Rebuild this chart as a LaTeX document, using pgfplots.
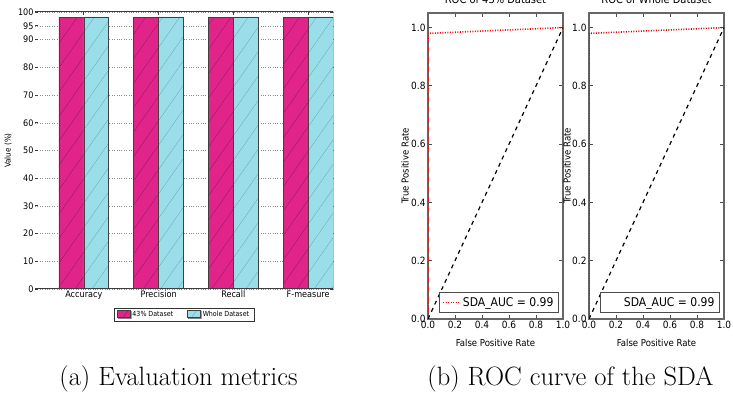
\documentclass[border=0pt]{standalone}
\usepackage{fontspec}
\usepackage{pgfplots}
\pgfplotsset{compat=1.18}
\usetikzlibrary{patterns.meta,shadows}
\newfontfamily\dvc{DejaVu Sans Condensed}
\definecolor{mag}{RGB}{224,36,137}
\definecolor{cya}{RGB}{154,222,234}
\definecolor{spine}{RGB}{60,60,60}
\pgfplotsset{
  rocstyle/.style={
    scale only axis, width=135pt, height=306pt, anchor=south west,
    xmin=0, xmax=1, ymin=0, ymax=1.05,
    xtick={0,0.2,0.4,0.6,0.8,1.0}, ytick={0,0.2,0.4,0.6,0.8,1.0},
    tick label style={font=\dvc\fontsize{10}{11}\selectfont,
      /pgf/number format/fixed, /pgf/number format/fixed zerofill,
      /pgf/number format/precision=1, /pgf/number format/assume math mode=true},
    xticklabel style={yshift=1pt},
    yticklabel style={xshift=1pt},
    tick align=inside, major tick length=4pt,
    tick style={black!70, line width=0.8pt},
    axis line style={black!60, line width=1.2pt},
    title style={font=\dvc\fontsize{11}{12}\selectfont, at={(axis description cs:0.5,1.0098)}, anchor=base, yshift=0pt},
    every axis x label/.style={at={(axis description cs:0.5,-0.078)}, anchor=center, font=\dvc\fontsize{9.5}{11}\selectfont},
    xlabel={False Positive Rate}, ylabel={True Positive Rate},
    legend style={at={(0.97,0.02)}, anchor=south east, draw=black!70, line width=1pt,
      font=\dvc\fontsize{12}{13}\selectfont, inner ysep=2.5pt, inner xsep=3pt},
    legend cell align=left,
  }
}
\begin{document}
\begin{tikzpicture}[x=1pt,y=1pt]
\useasboundingbox (0,0) rectangle (733,396);
\clip (0,0) rectangle (733,396);

% (a) bar chart
\begin{axis}[
  at={(35pt,107pt)}, anchor=south west,
  scale only axis, width=298pt, height=277pt,
  xmin=-0.653, xmax=3.333, ymin=0, ymax=100,
  ybar=0pt, bar width=0.333,
  xtick={0,1,2,3}, xticklabels={Accuracy,Precision,Recall,F-measure},
  ytick={0,10,20,30,40,50,60,70,80,90,95,100},
  tick label style={font=\dvc\fontsize{9}{10}\selectfont},
  xticklabel style={yshift=2pt},
  yticklabel style={xshift=2pt},
  /pgf/number format/assume math mode=true,
  ymajorgrids, grid style={dotted, black!45, line width=0.5pt},
  axis line style={draw=none},
  tick align=inside, major tick length=3pt,
  tick style={spine, line width=0.8pt},
  every axis y label/.style={at={(axis description cs:-0.09,0.5)}, rotate=90, anchor=center, font=\dvc\fontsize{8}{9}\selectfont},
  ylabel={Value (\%)},
  legend style={at={(axis description cs:0.5,-0.068)}, anchor=north, legend columns=2,
    font=\dvc\fontsize{7}{8}\selectfont, draw=black!80, line width=0.6pt,
    drop shadow={shadow xshift=1pt, shadow yshift=-1pt, fill=black!45},
    /tikz/every even column/.append style={column sep=12pt}, inner ysep=1pt},
  legend image code/.code={\draw[#1] (0pt,-3pt) rectangle (13pt,4pt);},
]
\addplot[fill=mag, draw=black!75, line width=0.6pt,
  postaction={pattern={Lines[angle=55,distance=14pt,line width=0.25pt]}, pattern color=mag!60!black}]
  coordinates {(0,98.1) (1,98.0) (2,98.1) (3,98.0)};
\addplot[fill=cya, draw=black!75, line width=0.6pt,
  postaction={pattern={Lines[angle=55,distance=14pt,line width=0.25pt]}, pattern color=cya!70!black}]
  coordinates {(0,98.2) (1,98.2) (2,98.2) (3,98.2)};
\legend{43\% Dataset, Whole Dataset}
\draw[spine, line width=1pt] (rel axis cs:0,0) -- (rel axis cs:1,0) -- (rel axis cs:1,1) -- (rel axis cs:0,1);
\end{axis}

% (b) ROC 43%
\begin{axis}[rocstyle, at={(428pt,77pt)},
  title={ROC of 43\% Dataset},
  every axis y label/.style={at={(axis description cs:-0.17,0.5)}, rotate=90, anchor=center, font=\dvc\fontsize{9.5}{11}\selectfont},
]
\addplot[red, line width=1.6pt, dash pattern=on 1pt off 1.5pt] coordinates {(0,0) (0,0.98) (1,1)};
\addlegendentry{SDA\_AUC = 0.99}
\addplot[black, line width=1.2pt, dash pattern=on 4pt off 4pt, forget plot] coordinates {(0,0) (1,1)};
\end{axis}

% (b) ROC whole
\begin{axis}[rocstyle, at={(589pt,77pt)},
  title={ROC of Whole Dataset},
  every axis y label/.style={at={(axis description cs:-0.163,0.5)}, rotate=90, anchor=center, font=\dvc\fontsize{9.5}{11}\selectfont},
]
\addplot[red!85!black, line width=1.6pt, dash pattern=on 1pt off 1.5pt, forget plot] coordinates {(0,0) (0,0.98) (1,1)};
\addplot[black, line width=1.2pt, dash pattern=on 4pt off 4pt, forget plot] coordinates {(0,0) (1,1)};
\addlegendimage{draw opacity=0}
\addlegendentry{SDA\_AUC = 0.99}
\end{axis}

\node[anchor=base, font=\fontsize{26.5}{30}\selectfont, inner sep=0pt] at (178.5,10) {(a) Evaluation metrics};
\node[anchor=base, font=\fontsize{26.5}{30}\selectfont, inner sep=0pt] at (570.5,10) {(b) ROC curve of the SDA};
\end{tikzpicture}
\end{document}
